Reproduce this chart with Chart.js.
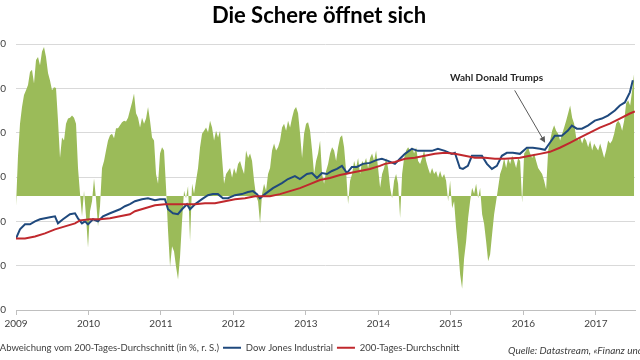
<!DOCTYPE html>
<html><head><meta charset="utf-8">
<script src="https://cdn.jsdelivr.net/npm/chart.js@4.4.0/dist/chart.umd.min.js"></script>
<style>
html,body{margin:0;padding:0;width:640px;height:360px;overflow:hidden;background:#fff;}
#wrap{position:absolute;left:-50px;top:0;width:720px;height:360px;}
</style></head><body>
<div id="wrap"><canvas id="c" width="720" height="360"></canvas></div>
<script>
// ---- data ----
const yearTicks = [2009, 2010, 2011, 2012, 2013, 2014, 2015, 2016, 2017];
const leftTicks = [0, 5000, 10000, 15000, 20000, 25000, 30000];
const rightTicks = [-15, -10, -5, 0, 5, 10, 15, 20];

const dowDates = [2009.000,2009.055,2009.124,2009.193,2009.262,2009.331,2009.400,2009.469,2009.538,2009.579,
2009.648,2009.745,2009.814,2009.855,2009.910,2009.952,2009.993,2010.062,2010.131,2010.200,
2010.297,2010.366,2010.434,2010.503,2010.572,2010.641,2010.738,2010.821,2010.917,2010.986,
2011.055,2011.097,2011.166,2011.234,2011.290,2011.359,2011.400,2011.469,2011.566,2011.648,
2011.717,2011.786,2011.855,2011.924,2012.021,2012.117,2012.200,2012.269,2012.324,2012.366,
2012.434,2012.545,2012.669,2012.752,2012.848,2012.917,2013.014,2013.083,2013.152,2013.221,
2013.290,2013.359,2013.428,2013.497,2013.566,2013.634,2013.703,2013.786,2013.883,2013.979,
2014.048,2014.131,2014.228,2014.297,2014.366,2014.462,2014.545,2014.641,2014.738,2014.821,
2014.917,2015.014,2015.055,2015.124,2015.166,2015.234,2015.290,2015.359,2015.428,2015.497,
2015.566,2015.634,2015.703,2015.772,2015.855,2015.952,2016.048,2016.131,2016.228,2016.297,
2016.366,2016.434,2016.531,2016.614,2016.669,2016.738,2016.807,2016.890,2016.986,2017.083,
2017.166,2017.262,2017.331,2017.400,2017.469,2017.510];
const dowValues = [8070,9090,9660,9660,10000,10230,10340,10450,10570,9770,
10230,10800,10910,10340,9770,10000,9660,10230,10000,10570,
10910,11140,11360,11700,11930,12270,12500,12610,12390,12500,
12500,11360,10910,10800,11360,11930,11360,11930,12500,12950,
13070,13070,12610,12610,12950,13070,13300,13410,13070,12610,
13070,13750,14320,14770,15110,14770,15340,15450,14890,15450,
15340,15680,15910,16250,15450,16140,16140,16480,16590,16930,
17050,16820,16480,17050,17610,18180,17950,17950,17950,18180,
17950,17610,17730,16020,15910,16250,17390,17390,17390,16480,
15910,16250,17390,17730,17730,17610,18300,18300,18180,18070,
18860,19660,19660,20230,20800,20450,20450,20800,21360,21590,
21930,22500,23070,23410,24550,25910];

const maDates = [2009.000,2009.124,2009.262,2009.400,2009.538,2009.676,2009.814,2009.883,2010.021,2010.159,
2010.297,2010.434,2010.572,2010.641,2010.779,2010.917,2011.055,2011.193,2011.331,2011.469,
2011.607,2011.745,2011.883,2012.021,2012.159,2012.297,2012.366,2012.503,2012.641,2012.779,
2012.917,2013.055,2013.193,2013.331,2013.469,2013.607,2013.745,2013.883,2014.021,2014.090,
2014.228,2014.366,2014.503,2014.641,2014.779,2014.917,2015.055,2015.193,2015.331,2015.469,
2015.607,2015.745,2015.952,2016.090,2016.228,2016.366,2016.503,2016.641,2016.779,2016.917,
2017.055,2017.193,2017.331,2017.469,2017.538];
const maValues = [8070,8070,8300,8640,9090,9430,9770,10110,10230,10230,
10340,10570,10800,11140,11480,11820,11930,11930,11930,11930,
12050,12050,12270,12500,12610,12840,12840,12840,13070,13410,
13750,14200,14660,14890,15230,15450,15680,15910,16250,16480,
16700,17050,17160,17390,17610,17730,17610,17390,17160,17160,
17050,17050,17160,17390,17610,17840,18300,18860,19430,20000,
20570,21020,21590,22160,22390];

// Abweichung vom 200-Tages-Durchschnitt in %, sampled about every 10 days
const deviationStart = 2009.0;
const deviationStepYears = 0.0276;
const deviation = [
-1.3,5.3,9.5,11.7,13.3,13.9,14.6,16.3,16.6,14.8,
17.9,18.3,17.2,19.0,19.6,18.3,16.2,15.2,13.9,14.3,
14.2,9.9,5.0,7.7,7.3,9.5,10.2,10.3,10.6,10.3,
9.5,3.7,0.3,-2.7,0.7,-2.7,-6.8,-2.0,-0.7,2.3,
-0.4,-4.0,-1.3,3.7,4.6,6.0,7.3,8.0,8.2,7.6,
8.9,8.9,9.3,9.7,9.9,9.8,10.3,11.3,12.3,13.5,
10.9,10.3,9.0,10.3,9.5,10.2,11.7,9.9,7.7,7.3,
2.9,1.6,5.6,6.4,6.0,1.1,-4.6,-9.3,-6.6,-7.3,
-9.3,-11.0,-8.0,-3.3,0.7,-0.3,1.3,-6.0,1.6,0.3,
2.0,3.7,6.4,8.2,8.6,9.0,8.4,9.9,9.0,7.3,
8.6,7.7,8.6,5.0,1.6,2.9,3.3,3.7,2.4,3.7,
2.9,4.2,4.6,3.7,2.9,6.0,5.0,5.6,4.6,2.0,
0.0,-0.7,-3.6,0.3,1.6,0.7,2.9,3.7,6.0,6.9,
6.0,6.4,7.3,9.0,9.5,8.6,9.9,9.0,10.3,11.3,
11.7,10.9,8.2,5.0,8.2,9.5,9.7,8.6,6.0,2.9,
4.6,5.6,7.3,2.9,1.6,3.3,4.2,5.6,6.4,6.0,
4.6,6.4,7.7,8.0,6.4,3.3,-1.1,2.0,2.9,4.6,
3.7,5.0,2.9,4.6,4.2,5.0,3.7,5.0,5.6,4.6,
6.0,3.7,1.1,2.9,3.7,5.0,3.7,1.1,-0.3,2.0,
2.9,1.6,-2.9,2.9,5.0,6.0,6.4,6.0,6.4,5.6,
6.4,4.6,4.2,5.0,6.0,4.6,3.7,2.9,3.7,2.9,
3.3,2.4,3.3,2.4,2.9,2.0,-0.7,2.0,-1.6,-0.7,
-4.2,-6.9,-10.3,-12.2,-8.2,-6.0,-2.9,-0.7,1.1,0.3,
1.6,-0.3,1.1,-2.4,-3.7,-6.0,-8.6,-7.7,-5.0,-2.4,
-0.7,1.1,2.9,3.7,5.0,3.7,5.0,4.2,5.3,4.6,
3.7,5.0,4.6,-0.9,5.6,6.0,6.4,5.6,5.0,5.6,
4.6,3.7,3.3,2.9,2.0,0.9,6.0,7.3,8.6,9.3,
8.6,8.2,7.3,8.2,9.0,9.9,10.9,11.9,10.3,9.5,
7.7,7.3,7.7,6.9,7.7,7.3,6.4,7.3,6.0,6.9,
6.4,6.0,6.9,6.0,5.0,6.0,7.3,6.9,7.3,8.2,
9.5,9.9,9.5,8.6,9.9,12.2,12.6,11.9,13.9,16.2];

const noteText = 'Wahl Donald Trumps';
const noteAt = [2015.63, 26140];
const arrowFrom = [2015.88, 24770];
const arrowTo = [2016.30, 18860];
const sourceText = 'Quelle: Datastream, \u00abFinanz und Wirtschaft\u00bb';

// ---- chart ----
const FONT = 'Lato, "Liberation Sans", sans-serif';
const devPoints = deviation.map((v, i) => ({x: deviationStart + i * deviationStepYears, y: v}));
const dowPoints = dowDates.map((d, i) => ({x: d, y: dowValues[i]}));
const maPoints = maDates.map((d, i) => ({x: d, y: maValues[i]}));

const notesPlugin = {
  id: 'notes',
  afterDatasetsDraw(chart) {
    const {ctx, scales: {x, y}} = chart;
    ctx.save();
    const x1 = x.getPixelForValue(arrowFrom[0]), y1 = y.getPixelForValue(arrowFrom[1]);
    const x2 = x.getPixelForValue(arrowTo[0]), y2 = y.getPixelForValue(arrowTo[1]);
    const a = Math.atan2(y2 - y1, x2 - x1);
    ctx.strokeStyle = '#595959'; ctx.fillStyle = '#595959'; ctx.lineWidth = 1;
    ctx.beginPath(); ctx.moveTo(x1, y1);
    ctx.lineTo(x2 - 4 * Math.cos(a), y2 - 4 * Math.sin(a)); ctx.stroke();
    ctx.beginPath(); ctx.moveTo(x2, y2);
    ctx.lineTo(x2 - 6 * Math.cos(a) + 3 * Math.sin(a), y2 - 6 * Math.sin(a) - 3 * Math.cos(a));
    ctx.lineTo(x2 - 6 * Math.cos(a) - 3 * Math.sin(a), y2 - 6 * Math.sin(a) + 3 * Math.cos(a));
    ctx.closePath(); ctx.fill();
    ctx.font = 'bold 10px ' + FONT; ctx.fillStyle = '#262626';
    ctx.textAlign = 'center'; ctx.textBaseline = 'middle';
    ctx.fillText(noteText, x.getPixelForValue(noteAt[0]), y.getPixelForValue(noteAt[1]));
    ctx.restore();
  },
  afterDraw(chart) {
    const {ctx} = chart;
    ctx.save();
    ctx.font = 'italic 10px ' + FONT; ctx.fillStyle = '#404040';
    ctx.textAlign = 'left'; ctx.textBaseline = 'middle';
    ctx.fillText(sourceText, chart.chartArea.left + 492, 351);
    ctx.restore();
  }
};

new Chart(document.getElementById('c'), {
  type: 'line',
  data: {
    datasets: [
      {label: 'Abweichung vom 200-Tages-Durchschnitt (in %, r. S.)', data: devPoints, yAxisID: 'y2',
       fill: 'origin', backgroundColor: '#9BBB59', borderColor: '#9BBB59', borderWidth: 0,
       pointRadius: 0, pointStyle: 'rect', tension: 0, order: 3},
      {label: 'Dow Jones Industrial', data: dowPoints, yAxisID: 'y', fill: false,
       borderColor: '#1F497D', backgroundColor: '#1F497D', borderWidth: 2, pointRadius: 0,
       pointStyle: 'line', tension: 0, order: 2},
      {label: '200-Tages-Durchschnitt', data: maPoints, yAxisID: 'y', fill: false,
       borderColor: '#C0282D', backgroundColor: '#C0282D', borderWidth: 2, pointRadius: 0,
       pointStyle: 'line', tension: 0, order: 1}
    ]
  },
  options: {
    responsive: false, animation: false, events: [], devicePixelRatio: 1,
    layout: {padding: {left: 23, right: 5, top: 0, bottom: 0}},
    scales: {
      x: {type: 'linear', min: 2009, max: 2017.54,
          afterBuildTicks: s => { s.ticks = yearTicks.map(v => ({value: v})); },
          afterFit: s => { s.height = 29; },
          grid: {drawOnChartArea: false, drawTicks: true, tickLength: 5, color: '#bfbfbf'},
          border: {display: true, color: '#bfbfbf'},
          ticks: {callback: v => String(v), color: '#404040', padding: 3, maxRotation: 0,
                  font: {family: FONT, size: 10}}},
      y: {position: 'left', min: 0, max: 30000,
          afterBuildTicks: s => { s.ticks = leftTicks.map(v => ({value: v})); },
          afterFit: s => { s.width = 43; },
          grid: {color: '#d9d9d9', drawTicks: false},
          border: {display: false},
          ticks: {callback: v => String(v), color: '#404040', padding: 10,
                  font: {family: FONT, size: 10}}},
      y2: {position: 'right', display: true, min: -15, max: 20,
           afterBuildTicks: s => { s.ticks = rightTicks.map(v => ({value: v})); },
           afterFit: s => { s.width = 30; },
           grid: {display: false, drawTicks: false}, border: {display: false},
           ticks: {display: false}}
    },
    plugins: {
      title: {display: true, text: 'Die Schere öffnet sich', fullSize: true, color: '#000',
              font: {family: FONT, size: 22, weight: 'bold'}, padding: {top: 3, bottom: 14.6}},
      legend: {position: 'bottom', align: 'start', maxHeight: 21,
               labels: {usePointStyle: true, pointStyleWidth: 18, padding: 4, color: '#404040',
                        font: {family: FONT, size: 9.5},
                        sort: (a, b) => a.datasetIndex - b.datasetIndex}},
      tooltip: {enabled: false}
    }
  },
  plugins: [notesPlugin]
});
</script>
</body></html>
